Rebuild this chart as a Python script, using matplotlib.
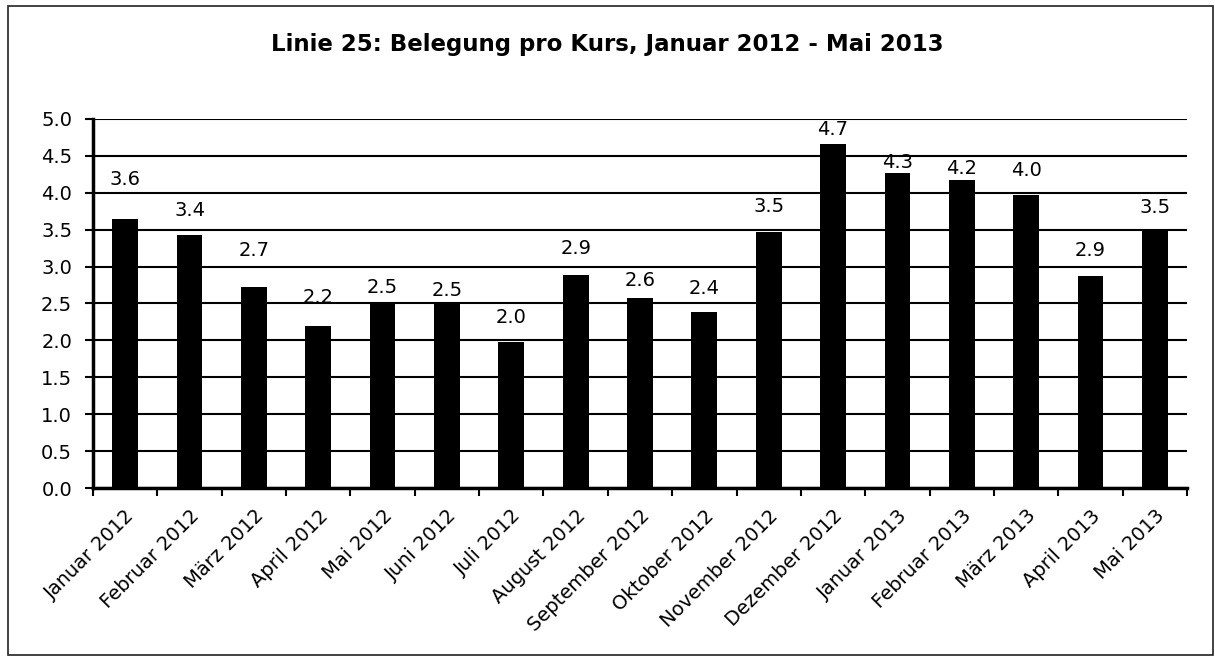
#Belegung pro Kurs, Linie 25 - bar chart

import numpy as np
import matplotlib.pyplot as plt
from matplotlib.patches import Rectangle

months = ['Januar 2012', 'Februar 2012', 'März 2012', 'April 2012', 'Mai 2012',
          'Juni 2012', 'Juli 2012', 'August 2012', 'September 2012', 'Oktober 2012',
          'November 2012', 'Dezember 2012', 'Januar 2013', 'Februar 2013',
          'März 2013', 'April 2013', 'Mai 2013']
belegung = [3.64, 3.43, 2.72, 2.19, 2.49, 2.49, 1.98, 2.89, 2.57, 2.38,
            3.47, 4.66, 4.27, 4.17, 3.97, 2.87, 3.48]
yticks = np.arange(0, 5.01, 0.5)

#label distance above bar top (pixels), as placed in the original
lab_off = [40, 24, 37, 29, 17, 14, 24, 26, 18, 24, 25, 15, 10, 12, 25, 26, 24]

plt.rcParams['font.family'] = ['DejaVu Sans']

fig = plt.figure(figsize=(12.15, 6.59), dpi=100)
ax = fig.add_axes([93/1215, 1-488/659, (1187-93)/1215, (488-119)/659])

x = np.arange(len(months))
ax.bar(x, belegung, width=0.4, color='black', zorder=3)

for xi, v, off in zip(x, belegung, lab_off):
    ax.annotate('%.1f' % v, (xi, v), xytext=(0, off*0.72), textcoords='offset points',
                ha='center', va='center', fontsize=14, zorder=4)

ax.set_xlim(-0.5, len(months)-0.5)
ax.set_ylim(0, 5)
ax.set_yticks(yticks)
ax.set_yticklabels(['%.1f' % t for t in yticks], fontsize=14)
ax.yaxis.grid(True, color='black', linewidth=1.5, zorder=0)
ax.set_axisbelow(True)

ax.set_xticks(x)
ax.set_xticklabels(months, rotation=45, ha='right', rotation_mode='anchor', fontsize=14)
ax.tick_params(axis='x', length=0, pad=13)
ax.set_xticks(np.arange(-0.5, len(months)), minor=True)
ax.tick_params(axis='x', which='minor', length=6, width=1.5, direction='out')
ax.tick_params(axis='y', length=6, width=1.5, pad=9)

for s in ['top', 'right']:
    ax.spines[s].set_visible(False)
for s in ['left', 'bottom']:
    ax.spines[s].set_linewidth(2.5)
    ax.spines[s].set_zorder(5)

fig.text(607/1215, 1-45/659, 'Linie 25: Belegung pro Kurs, Januar 2012 - Mai 2013',
         ha='center', va='center', fontsize=16.5, fontweight='bold')

#frame round the whole chart
fig.patches.append(Rectangle((8/1215, 4/659), 1205/1215, 649/659, transform=fig.transFigure,
                             fill=False, edgecolor='#222222', linewidth=1.2))

fig.savefig('out.png', dpi=100)
